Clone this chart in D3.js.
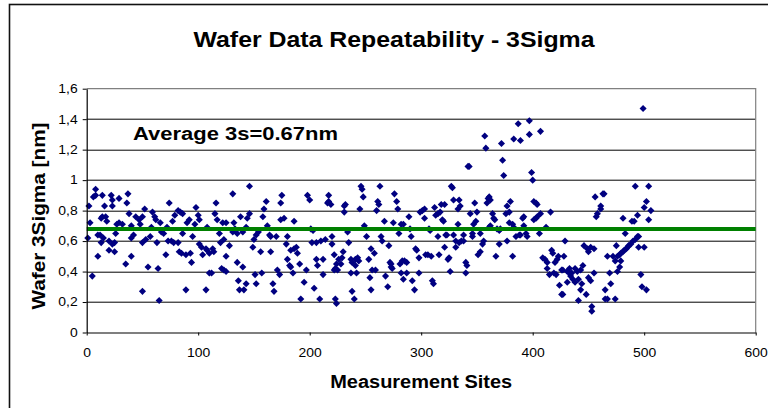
<!DOCTYPE html>
<html>
<head>
<meta charset="utf-8">
<script src="https://cdn.jsdelivr.net/npm/d3@7"></script>
<style>
body { margin: 0; background: #fff; }
text { font-family: "Liberation Sans", Arial, sans-serif; fill: #000; }
</style>
</head>
<body>
<div id="chart"></div>
<script>
// measurement site index for each point
var sites = [
  1,2,3,5,6,8,8,10,10,12,13,13,14,14,15,16,17,18,20,20,
  22,23,23,23,25,25,26,27,29,29,32,35,36,37,38,40,40,40,42,44,
  47,48,50,50,50,52,53,55,57,58,59,61,62,63,64,65,66,67,69,71,
  72,73,74,76,77,78,79,82,82,83,84,85,86,86,89,89,90,92,93,94,
  95,97,98,100,101,101,103,104,107,107,108,108,110,110,112,113,114,115,116,117,
  119,120,121,122,123,123,125,125,125,128,131,131,132,133,135,135,136,137,138,140,
  140,141,143,143,144,146,146,149,150,151,152,152,154,156,157,158,159,161,162,164,
  165,165,167,168,170,171,173,174,174,175,177,179,180,180,182,183,183,185,186,186,
  188,189,191,192,195,197,198,200,201,202,203,204,206,206,207,209,210,212,212,214,
  216,217,217,219,220,220,222,222,223,223,224,224,225,226,228,229,230,231,231,232,
  234,235,237,237,238,238,240,241,241,242,243,244,245,246,247,248,249,251,253,254,
  255,255,256,258,259,260,261,262,263,264,265,267,268,270,271,272,273,273,274,275,
  276,278,279,280,281,282,282,283,284,284,285,287,287,289,290,291,292,294,295,296,
  298,298,299,301,303,303,304,306,307,308,309,310,311,312,313,315,315,316,317,318,
  319,320,321,321,322,323,324,325,326,327,328,329,329,331,331,333,333,334,334,335,
  336,338,338,340,340,341,342,343,344,346,346,347,348,349,350,351,353,353,355,356,
  357,358,359,360,361,361,362,362,364,365,366,367,368,370,370,371,372,373,374,376,
  377,377,379,379,380,382,382,383,383,385,387,388,389,389,391,392,392,394,395,397,
  397,399,400,401,401,403,403,404,404,406,407,407,409,411,412,413,413,415,416,417,
  418,419,420,421,422,423,424,426,426,427,427,428,429,431,431,433,433,434,435,436,
  438,438,440,441,441,443,443,444,445,446,448,449,450,450,452,452,453,453,455,455,
  456,457,458,461,461,463,464,465,465,467,467,469,470,472,474,474,475,476,476,478,
  478,479,479,481,481,482,483,484,485,486,488,489,490,491,492,492,494,494,495,495,
  497,498,499,500,500,502,502,504,504,506
];

// wafer 3 sigma [nm] at each site
var sigma3 = [
  .62,.83,.72,.37,.89,.94,.90,.64,.50,.64,.75,.59,.90,.76,.62,.83,.76,.73,.60,.54,
  .90,.87,.83,.58,.53,.59,.65,.71,.88,.72,.71,.45,.85,.91,.78,.70,.62,.50,.64,.76,
  .74,.71,.76,.59,.27,.81,.61,.43,.63,.69,.79,.76,.74,.59,.42,.21,.72,.66,.65,.51,
  .69,.60,.85,.60,.73,.59,.77,.80,.59,.53,.79,.52,.78,.65,.51,.28,.72,.74,.52,.46,
  .63,.71,.82,.77,.74,.58,.56,.51,.55,.28,.69,.54,.39,.52,.39,.55,.53,.78,.85,.74,
  .65,.59,.42,.72,.61,.41,.72,.50,.40,.57,.91,.66,.72,.68,.65,.46,.34,.28,.76,.43,
  .66,.28,.32,.69,.75,.78,.96,.56,.61,.38,.64,.32,.66,.53,.39,.76,.81,.86,.70,.64,
  .63,.53,.32,.27,.63,.41,.38,.85,.74,.90,.75,.58,.63,.48,.44,.43,.54,.39,.55,.73,
  .56,.52,.45,.22,.33,.41,.90,.87,.68,.59,.67,.29,.48,.59,.44,.22,.60,.38,.48,.61,
  .85,.90,.86,.84,.63,.58,.51,.41,.42,.22,.45,.19,.41,.48,.45,.49,.53,.83,.79,.84,
  .66,.59,.48,.39,.46,.27,.22,.48,.44,.39,.49,.47,.81,.96,.94,.89,.70,.63,.48,.36,
  .28,.55,.41,.52,.41,.80,.86,.84,.96,.63,.60,.73,.37,.30,.57,.46,.45,.43,.42,.72,
  .91,.86,.81,.65,.45,.71,.39,.47,.71,.35,.47,.46,.39,.76,.68,.63,.34,.28,.55,.54,
  .49,.39,.79,.80,.81,.75,.51,.51,.68,.67,.50,.34,.32,.82,.77,.78,.63,.51,.79,.84,
  .74,.73,.84,.56,.64,.64,.48,.49,.40,.96,.95,.87,.64,.60,.56,.81,.71,.87,.59,.83,
  .60,.60,.64,.46,.39,.44,1.09,1.09,.78,.63,.65,.71,.85,.73,.79,.51,.53,.65,.58,.60,
  1.29,1.21,.85,.88,.89,.69,.87,.70,.78,.75,.74,.50,.68,.67,.58,.68,1.24,1.13,1.03,.78,
  .83,.60,.79,.72,.86,.71,.50,.69,1.27,.63,1.37,.64,1.26,.64,.75,.76,.70,.65,.63,1.39,
  1.30,1.05,1.00,.86,.74,.85,.75,.84,.76,.65,.78,1.32,.49,.48,.69,.46,.42,.38,.79,.54,
  .52,.39,.46,.38,.48,.50,.31,.25,.41,.25,.41,.50,.60,.40,.33,.39,.42,.37,.39,.35,
  .42,.33,.40,.35,.21,.41,.28,.32,.44,.57,.25,.55,.53,.36,.56,.34,.17,.14,.55,.39,
  .89,.76,.78,.83,.81,.91,.91,.28,.22,.22,.50,.39,.32,.50,.22,.47,.57,.50,.40,.51,
  .43,.52,.47,.53,.75,.54,.65,.55,.56,.57,.58,.73,.60,.73,.61,.96,.63,.77,.63,.56,
  .38,.30,1.47,.56,.82,.28,.86,.74,.96,.80
];

// average line (drawn level) and its label
var averageLine = [0.68];
var averageLabel = 'Average 3s=0.67nm';

var xTicks = [0, 100, 200, 300, 400, 500, 600];
var yTicks = [0, 0.2, 0.4, 0.6, 0.8, 1.0, 1.2, 1.4, 1.6];

var margin = {top: 88.7, right: 12.3, bottom: 75.5, left: 86.7};
var width = 768 - margin.left - margin.right,
    height = 408 - margin.top - margin.bottom;

var commaFormat = d3.formatLocale({decimal: ',', thousands: '.', grouping: [3], currency: ['', '']}).format('~g');

// scales and axes
var xScale = d3.scaleLinear()
    .domain([0, 600])
    .range([0, width]);

var yScale = d3.scaleLinear()
    .domain([0, 1.6])
    .range([height, 0]);

var xAxis = d3.axisBottom(xScale)
    .tickValues(xTicks)
    .tickSize(3)
    .tickSizeOuter(0)
    .tickPadding(13);

var yAxis = d3.axisLeft(yScale)
    .tickValues(yTicks)
    .tickSize(4)
    .tickSizeOuter(0)
    .tickPadding(5)
    .tickFormat(commaFormat);

var svg = d3.select('#chart').append('svg')
    .attr('width', 768)
    .attr('height', 408);

svg.append('rect')
    .attr('width', 768).attr('height', 408)
    .attr('fill', '#fff');

// chart frame (runs off the right and bottom edge)
svg.append('rect')
    .attr('x', 9.5).attr('y', 4.5)
    .attr('width', 800).attr('height', 450)
    .attr('fill', 'none')
    .attr('stroke', '#111')
    .attr('stroke-width', 1.6);

var g = svg.append('g')
    .attr('transform', 'translate(' + margin.left + ',' + margin.top + ')');

// gridlines
g.selectAll('line.grid')
    .data(yTicks.filter(function(d) { return d > 0 && d < 1.6; }))
  .enter().append('line')
    .attr('class', 'grid')
    .attr('x1', 0).attr('x2', width)
    .attr('y1', function(d) { return Math.round(yScale(d)) + 0.5; })
    .attr('y2', function(d) { return Math.round(yScale(d)) + 0.5; })
    .attr('stroke', '#000')
    .attr('stroke-width', 1);

// plot area border, top and right
g.append('path')
    .attr('d', 'M0,' + yScale(1.6) + 'H' + xScale(600) + 'V' + yScale(0))
    .attr('fill', 'none')
    .attr('stroke', '#808080')
    .attr('stroke-width', 1.2);

// points
var diamond = d3.symbol().type(d3.symbolDiamond2).size(32);
g.selectAll('path.pt')
    .data(d3.zip(sites, sigma3))
  .enter().append('path')
    .attr('class', 'pt')
    .attr('d', diamond)
    .attr('transform', function(d) { return 'translate(' + xScale(d[0]) + ',' + yScale(d[1]) + ')'; })
    .attr('fill', '#000080');

// average line
g.selectAll('line.avg')
    .data(averageLine)
  .enter().append('line')
    .attr('class', 'avg')
    .attr('x1', xScale(0)).attr('x2', xScale(600))
    .attr('y1', function(d) { return yScale(d); })
    .attr('y2', function(d) { return yScale(d); })
    .attr('stroke', '#008000')
    .attr('stroke-width', 4);

// axes
var gx = g.append('g')
    .attr('transform', 'translate(0,' + height + ')')
    .call(xAxis);
var gy = g.append('g')
    .call(yAxis);

[gx, gy].forEach(function(ax) {
  ax.select('.domain').attr('stroke', '#000').attr('stroke-width', 1.2);
  ax.selectAll('.tick line').attr('stroke', '#000');
  ax.selectAll('.tick text')
      .attr('font-size', 12)
      .attr('font-family', '"Liberation Sans", Arial, sans-serif')
      .attr('fill', '#000')
      .each(function() {
        var w = this.getComputedTextLength();
        d3.select(this).attr('textLength', w * 1.16).attr('lengthAdjust', 'spacingAndGlyphs');
      });
});

// texts
svg.append('text')
    .attr('x', 394).attr('y', 47)
    .attr('text-anchor', 'middle')
    .attr('font-size', 22).attr('font-weight', 'bold')
    .attr('textLength', 401).attr('lengthAdjust', 'spacingAndGlyphs')
    .text('Wafer Data Repeatability - 3Sigma');

svg.append('text')
    .attr('x', 133).attr('y', 139.5)
    .attr('font-size', 18).attr('font-weight', 'bold')
    .attr('textLength', 205).attr('lengthAdjust', 'spacingAndGlyphs')
    .text(averageLabel);

svg.append('text')
    .attr('x', margin.left + width / 2).attr('y', 387.5)
    .attr('text-anchor', 'middle')
    .attr('font-size', 18).attr('font-weight', 'bold')
    .attr('textLength', 182).attr('lengthAdjust', 'spacingAndGlyphs')
    .text('Measurement Sites');

svg.append('text')
    .attr('transform', 'translate(45,216) rotate(-90)')
    .attr('text-anchor', 'middle')
    .attr('font-size', 18).attr('font-weight', 'bold')
    .attr('textLength', 187).attr('lengthAdjust', 'spacingAndGlyphs')
    .text('Wafer 3Sigma [nm]');
</script>
</body>
</html>
